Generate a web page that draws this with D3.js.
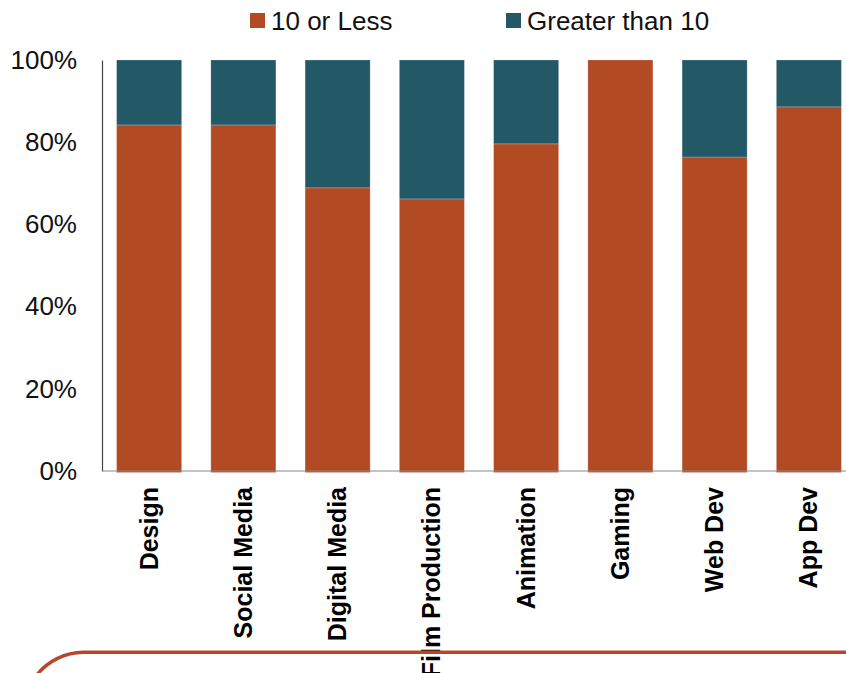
<!DOCTYPE html>
<html>
<head>
<meta charset="utf-8">
<script src="https://cdn.jsdelivr.net/npm/d3@7"></script>
<style>
  html, body { margin: 0; padding: 0; background: #fff; }
  svg { display: block; font-family: "Liberation Sans", Arial, sans-serif; }
</style>
</head>
<body>
<svg id="chart" width="846" height="673"></svg>
<script>
// Share of respondents by field, split into two groups (percent)
const categories = ["Design", "Social Media", "Digital Media", "Film Production",
                    "Animation", "Gaming", "Web Dev", "App Dev"];
const tenOrLess = [84.2, 84.2, 68.9, 66.2, 79.6, 100, 76.4, 88.6];
const greaterThanTen = categories.map((c, i) => 100 - tenOrLess[i]);
const seriesNames = ["10 or Less", "Greater than 10"];
const seriesColors = ["#b24a24", "#235967"];
const yTicks = [0, 20, 40, 60, 80, 100];

const svg = d3.select("#chart");

const x = d3.scaleBand()
  .domain(categories)
  .range([102, 856])
  .paddingInner(0.31)
  .paddingOuter(0.155);

const y = d3.scaleLinear().domain([0, 100]).range([471, 60]);

const rows = categories.map((c, i) => ({ cat: c, a: tenOrLess[i], b: greaterThanTen[i] }));
const stacked = d3.stack().keys(["a", "b"])(rows);

// Stacked bars
svg.append("g").selectAll("g")
  .data(stacked)
  .join("g")
  .attr("fill", (d, i) => seriesColors[i])
  .selectAll("rect")
  .data(d => d)
  .join("rect")
  .attr("x", d => x(d.data.cat))
  .attr("width", x.bandwidth())
  .attr("y", d => y(d[1]))
  .attr("height", d => (d[0] === 0 ? y(d[0]) + 1.5 : y(d[0])) - y(d[1]))
  .attr("stroke", "#ffffff")
  .attr("stroke-opacity", 0.25)
  .attr("stroke-width", 0.8);

// Y axis
const yAxis = svg.append("g")
  .attr("transform", "translate(102,0)")
  .call(d3.axisLeft(y).tickValues(yTicks).tickSize(0).tickPadding(25)
        .tickFormat(d => d + "%"));
yAxis.select(".domain").attr("stroke", "#444").attr("stroke-width", 1.2);
yAxis.selectAll("text")
  .attr("font-size", 26)
  .attr("fill", "#111")
  .attr("font-family", "Liberation Sans, Arial, sans-serif");

// X axis baseline
const xAxis = svg.append("g")
  .attr("transform", "translate(0,471)")
  .call(d3.axisBottom(x).tickSize(0).tickSizeOuter(0).tickFormat(""));
xAxis.select(".domain").attr("stroke", "#8a8a8a").attr("stroke-width", 1.2)
  .attr("d", "M102,0H846");

// Rotated category labels
svg.append("g").selectAll("text")
  .data(categories)
  .join("text")
  .attr("transform", d => `translate(${x(d) + x.bandwidth() / 2 + 8.5},487) rotate(-90)`)
  .attr("text-anchor", "end")
  .attr("font-size", 25)
  .attr("font-weight", "bold")
  .attr("fill", "#000")
  .text(d => d);

// Legend
const legendX = [250, 506];
const legend = svg.append("g").selectAll("g")
  .data(seriesNames)
  .join("g")
  .attr("transform", (d, i) => `translate(${legendX[i]},13)`);
legend.append("rect")
  .attr("width", 15).attr("height", 15)
  .attr("fill", (d, i) => seriesColors[i]);
legend.append("text")
  .attr("x", 21).attr("y", 16.5)
  .attr("font-size", 26)
  .attr("fill", "#111")
  .text(d => d);

// Decorative rounded rule along the bottom
svg.append("path")
  .attr("d", "M36,676 A60,60 0 0 1 83.6,652.3 L846,652.3")
  .attr("fill", "none")
  .attr("stroke", "#b5482a")
  .attr("stroke-width", 3.5);
</script>
</body>
</html>
